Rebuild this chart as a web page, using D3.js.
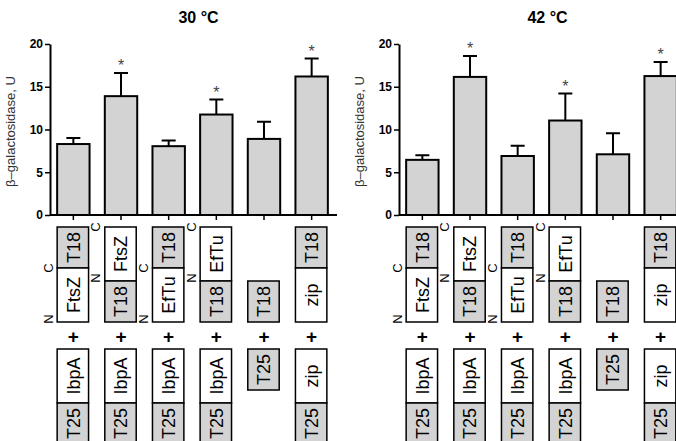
<!DOCTYPE html>
<html>
<head>
<meta charset="utf-8">
<script src="https://cdnjs.cloudflare.com/ajax/libs/d3/7.8.5/d3.min.js"></script>
<style>
  body { margin: 0; background: #fff; }
  svg { display: block; font-family: "Liberation Sans", Arial, sans-serif; }
</style>
</head>
<body>
<div id="chart"></div>
<script>
// ----------------------------------------
// DATA
// ----------------------------------------
const temps = ["30 °C", "42 °C"];
const mean30 = [8.3, 13.9, 8.05, 11.75, 8.9, 16.2];
const err30 = [0.7, 2.7, 0.65, 1.75, 2.0, 2.1];
const mean42 = [6.45, 16.15, 6.9, 11.05, 7.1, 16.25];
const err42 = [0.55, 2.45, 1.2, 3.15, 2.45, 1.65];
const signif = [false, true, false, true, false, true];
const yTicks = [0, 5, 10, 15, 20];

// constructs, listed top to bottom
const bait = [["T18", "FtsZ"], ["FtsZ", "T18"], ["T18", "EfTu"], ["EfTu", "T18"], ["T18"], ["T18", "zip"]];
const prey = [["IbpA", "T25"], ["IbpA", "T25"], ["IbpA", "T25"], ["IbpA", "T25"], ["T25"], ["zip", "T25"]];
const termini = [true, true, true, true, false, false];
const tags = ["T18", "T25"];

// ----------------------------------------
// SETUP
// ----------------------------------------
const W = 676, H = 441;
const svg = d3.select("#chart").append("svg")
  .attr("width", W).attr("height", H);

const panelX = [50, 399];
const plotW = 285;
const yTop = 44, yBottom = 215;

const x = d3.scaleBand()
  .domain(d3.range(6))
  .range([0, plotW])
  .paddingInner(0.32)
  .paddingOuter(0.15);

const y = d3.scaleLinear().domain([0, 20]).range([yBottom, yTop]);

const tagH = 41, partH = 54;
const baitBottom = 322, preyTop = 349;
const grey = "#d3d3d3";

function boxH(name) { return tags.includes(name) ? tagH : partH; }

[[mean30, err30], [mean42, err42]].forEach(([means, errs], p) => {
  const g = svg.append("g").attr("transform", `translate(${panelX[p]},0)`);
  const rows = means.map((m, i) => ({ i, m, e: errs[i], s: signif[i] }));
  const cx = i => x(i) + x.bandwidth() / 2;

  // title
  g.append("text")
    .attr("x", plotW / 2 + 6)
    .attr("y", 23)
    .attr("text-anchor", "middle")
    .style("font-size", "16px")
    .style("font-weight", "bold")
    .text(temps[p]);

  // y axis
  const yAxis = g.append("g")
    .call(d3.axisLeft(y).tickValues(yTicks).tickSize(5).tickSizeOuter(0));
  yAxis.select(".domain").attr("stroke-width", 2);
  yAxis.selectAll(".tick line").attr("stroke-width", 1.5);
  yAxis.selectAll(".tick text")
    .attr("x", -7)
    .style("font-size", "12px")
    .style("font-weight", "bold")
    .style("font-family", "Liberation Sans, Arial, sans-serif");

  g.append("text")
    .attr("transform", `translate(-35,${(yTop + yBottom) / 2 + 2}) rotate(-90)`)
    .attr("text-anchor", "middle")
    .attr("fill", "#333")
    .style("font-size", "13px")
    .text("β–galactosidase, U");

  // x axis
  g.append("line")
    .attr("x1", 0).attr("x2", plotW + 2)
    .attr("y1", yBottom).attr("y2", yBottom)
    .attr("stroke", "#000").attr("stroke-width", 2);
  g.selectAll(".xtick")
    .data(rows)
    .join("line")
    .attr("x1", d => cx(d.i))
    .attr("x2", d => cx(d.i))
    .attr("y1", yBottom).attr("y2", yBottom + 5)
    .attr("stroke", "#000").attr("stroke-width", 1.5);

  // error bars
  g.selectAll(".err")
    .data(rows)
    .join("path")
    .attr("fill", "none")
    .attr("stroke", "#000")
    .attr("stroke-width", 2)
    .attr("d", d => `M${cx(d.i)},${y(d.m)}V${y(d.m + d.e)}M${cx(d.i) - 7},${y(d.m + d.e)}H${cx(d.i) + 7}`);

  // bars
  g.selectAll(".bar")
    .data(rows)
    .join("rect")
    .attr("x", d => x(d.i))
    .attr("y", d => y(d.m))
    .attr("width", x.bandwidth())
    .attr("height", d => yBottom - y(d.m))
    .attr("fill", grey)
    .attr("stroke", "#000")
    .attr("stroke-width", 2);

  // significance
  g.selectAll(".star")
    .data(rows.filter(d => d.s))
    .join("text")
    .attr("x", d => cx(d.i))
    .attr("y", d => y(d.m + d.e) - 2)
    .attr("text-anchor", "middle")
    .attr("fill", "#444")
    .style("font-size", "16px")
    .text("*");

  // ----------------------------------------
  // CONSTRUCT DIAGRAMS
  // ----------------------------------------
  function drawBox(name, i, top) {
    const h = boxH(name);
    g.append("rect")
      .attr("x", x(i)).attr("y", top)
      .attr("width", x.bandwidth() - 1).attr("height", h)
      .attr("fill", tags.includes(name) ? grey : "#fff")
      .attr("stroke", "#000").attr("stroke-width", 1.5);
    g.append("text")
      .attr("transform", `translate(${cx(i)},${top + h / 2}) rotate(-90)`)
      .attr("text-anchor", "middle")
      .attr("dy", "0.36em")
      .style("font-size", "18px")
      .text(name);
    return h;
  }

  bait.forEach((parts, i) => {
    let top = baitBottom - d3.sum(parts, boxH);
    parts.forEach(name => {
      const h = drawBox(name, i, top);
      if (!tags.includes(name) && termini[i]) {
        [["C", top], ["N", top + h - 3]].forEach(([t, ty]) => {
          g.append("text")
            .attr("transform", `translate(${x(i) - 9},${ty}) rotate(-90)`)
            .attr("text-anchor", "middle")
            .attr("dy", "0.36em")
            .style("font-size", "13px")
            .text(t);
        });
      }
      top += h;
    });

    g.append("text")
      .attr("x", cx(i))
      .attr("y", baitBottom + 21)
      .attr("text-anchor", "middle")
      .style("font-size", "19px")
      .style("font-weight", "bold")
      .text("+");
  });

  prey.forEach((parts, i) => {
    let top = preyTop;
    parts.forEach(name => { top += drawBox(name, i, top); });
  });
});
</script>
</body>
</html>
